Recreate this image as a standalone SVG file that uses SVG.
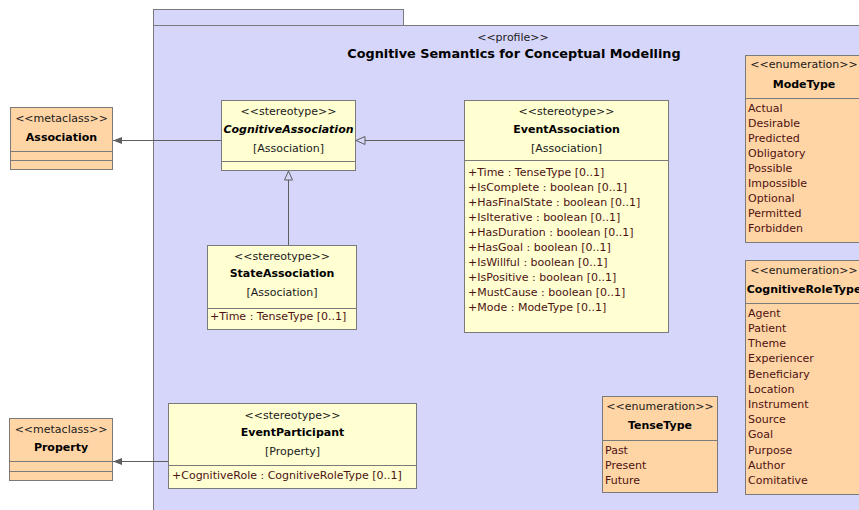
<svg xmlns="http://www.w3.org/2000/svg" width="859" height="510" viewBox="0 0 859 510">
  <defs>
    <style>
      .pkg { fill: #d6d6fb; stroke: #7a7a7a; stroke-width: 1; }
      .st { fill: #ffffd2; stroke: #7a7a7a; stroke-width: 1; }
      .mc { fill: #ffd5a6; stroke: #7a7a7a; stroke-width: 1; }
      .sep { stroke: #7a7a7a; stroke-width: 1; fill: none; }
      text { font-family: "DejaVu Sans", "Liberation Sans", sans-serif; font-size: 11px; fill: #1a1a1a; }
      .c { text-anchor: middle; }
      .b { font-weight: bold; fill: #000; }
      .i { font-style: italic; }
      .a { fill: #4e1212; }
      .title { font-size: 12.8px; font-weight: bold; fill: #000; text-anchor: middle; }
      .edge { stroke: #5e5e5e; stroke-width: 1; fill: none; }
    </style>
    <marker id="head" markerUnits="userSpaceOnUse" markerWidth="10" markerHeight="8" refX="9" refY="4" orient="auto">
      <path d="M0,0.5 L9,4 L0,7.5 z" fill="#5e5e5e"/>
    </marker>
    <marker id="gen" markerUnits="userSpaceOnUse" markerWidth="12" markerHeight="10" refX="10" refY="5" orient="auto">
      <path d="M1,1 L10,5 L1,9 z" fill="#d6d6fb" stroke="#5e5e5e" stroke-width="1"/>
    </marker>
  </defs>

  <rect width="859" height="510" fill="#ffffff"/>

  <!-- profile package -->
  <g id="profile">
    <rect class="pkg" x="153.5" y="9.5" width="250" height="16"/>
    <rect class="pkg" x="153.5" y="25.5" width="720" height="500"/>
    <text class="c" x="513" y="41">&lt;&lt;profile&gt;&gt;</text>
    <text class="title" x="514" y="58">Cognitive Semantics for Conceptual Modelling</text>
  </g>

  <!-- connectors -->
  <g id="connectors">
    <line class="edge" x1="221" y1="140.5" x2="113" y2="140.5" marker-end="url(#head)"/>
    <line class="edge" x1="168" y1="461.5" x2="113" y2="461.5" marker-end="url(#head)"/>
    <line class="edge" x1="464" y1="140.5" x2="356" y2="140.5" marker-end="url(#gen)"/>
    <line class="edge" x1="288.5" y1="245" x2="288.5" y2="171" marker-end="url(#gen)"/>
  </g>

  <g id="metaclass-association">
    <rect class="mc" x="10.5" y="107.5" width="102" height="62"/>
    <line class="sep" x1="10.5" y1="151.5" x2="112.5" y2="151.5"/>
    <line class="sep" x1="10.5" y1="160.5" x2="112.5" y2="160.5"/>
    <text class="c" x="61.5" y="122">&lt;&lt;metaclass&gt;&gt;</text>
    <text class="c b" x="61.5" y="141">Association</text>
  </g>

  <g id="metaclass-property">
    <rect class="mc" x="9.5" y="418.5" width="103" height="62"/>
    <line class="sep" x1="9.5" y1="461.5" x2="112.5" y2="461.5"/>
    <line class="sep" x1="9.5" y1="471.5" x2="112.5" y2="471.5"/>
    <text class="c" x="61" y="433">&lt;&lt;metaclass&gt;&gt;</text>
    <text class="c b" x="61" y="451">Property</text>
  </g>

  <g id="cognitive-association">
    <rect class="st" x="221.5" y="100.5" width="134" height="70"/>
    <line class="sep" x1="221.5" y1="161.5" x2="355.5" y2="161.5"/>
    <text class="c" x="288.5" y="115">&lt;&lt;stereotype&gt;&gt;</text>
    <text class="c b i" x="288.5" y="133">CognitiveAssociation</text>
    <text class="c" x="288.5" y="152">[Association]</text>
  </g>

  <g id="event-association">
    <rect class="st" x="464.5" y="100.5" width="204" height="232"/>
    <line class="sep" x1="464.5" y1="160.5" x2="668.5" y2="160.5"/>
    <text class="c" x="566.5" y="115">&lt;&lt;stereotype&gt;&gt;</text>
    <text class="c b" x="566.5" y="133">EventAssociation</text>
    <text class="c" x="566.5" y="152">[Association]</text>
    <text class="a" x="468" y="176">+Time : TenseType [0..1]</text>
    <text class="a" x="468" y="191">+IsComplete : boolean [0..1]</text>
    <text class="a" x="468" y="206">+HasFinalState : boolean [0..1]</text>
    <text class="a" x="468" y="221">+IsIterative : boolean [0..1]</text>
    <text class="a" x="468" y="236">+HasDuration : boolean [0..1]</text>
    <text class="a" x="468" y="251">+HasGoal : boolean [0..1]</text>
    <text class="a" x="468" y="266">+IsWillful : boolean [0..1]</text>
    <text class="a" x="468" y="281">+IsPositive : boolean [0..1]</text>
    <text class="a" x="468" y="296">+MustCause : boolean [0..1]</text>
    <text class="a" x="468" y="311">+Mode : ModeType [0..1]</text>
  </g>

  <g id="state-association">
    <rect class="st" x="207.5" y="245.5" width="149" height="84"/>
    <line class="sep" x1="207.5" y1="308.5" x2="356.5" y2="308.5"/>
    <text class="c" x="282" y="260">&lt;&lt;stereotype&gt;&gt;</text>
    <text class="c b" x="282" y="277">StateAssociation</text>
    <text class="c" x="282" y="296">[Association]</text>
    <text class="a" x="210" y="320">+Time : TenseType [0..1]</text>
  </g>

  <g id="event-participant">
    <rect class="st" x="168.5" y="403.5" width="248" height="85"/>
    <line class="sep" x1="168.5" y1="465.5" x2="416.5" y2="465.5"/>
    <text class="c" x="292.5" y="419">&lt;&lt;stereotype&gt;&gt;</text>
    <text class="c b" x="292.5" y="436">EventParticipant</text>
    <text class="c" x="292.5" y="455">[Property]</text>
    <text class="a" x="172" y="479">+CognitiveRole : CognitiveRoleType [0..1]</text>
  </g>

  <g id="mode-type">
    <rect class="mc" x="745.5" y="55.5" width="118" height="187"/>
    <line class="sep" x1="745.5" y1="98.5" x2="863.5" y2="98.5"/>
    <text class="c" x="804" y="68">&lt;&lt;enumeration&gt;&gt;</text>
    <text class="c b" x="804" y="88">ModeType</text>
    <text class="a" x="748" y="112">Actual</text>
    <text class="a" x="748" y="127">Desirable</text>
    <text class="a" x="748" y="142">Predicted</text>
    <text class="a" x="748" y="157">Obligatory</text>
    <text class="a" x="748" y="172">Possible</text>
    <text class="a" x="748" y="187">Impossible</text>
    <text class="a" x="748" y="202">Optional</text>
    <text class="a" x="748" y="217">Permitted</text>
    <text class="a" x="748" y="232">Forbidden</text>
  </g>

  <g id="cognitive-role-type">
    <rect class="mc" x="745.5" y="260.5" width="118" height="234"/>
    <line class="sep" x1="745.5" y1="303.5" x2="863.5" y2="303.5"/>
    <text class="c" x="804" y="274">&lt;&lt;enumeration&gt;&gt;</text>
    <text class="c b" x="804" y="293">CognitiveRoleType</text>
    <text class="a" x="748" y="317">Agent</text>
    <text class="a" x="748" y="332">Patient</text>
    <text class="a" x="748" y="347">Theme</text>
    <text class="a" x="748" y="362">Experiencer</text>
    <text class="a" x="748" y="378">Beneficiary</text>
    <text class="a" x="748" y="393">Location</text>
    <text class="a" x="748" y="408">Instrument</text>
    <text class="a" x="748" y="423">Source</text>
    <text class="a" x="748" y="438">Goal</text>
    <text class="a" x="748" y="454">Purpose</text>
    <text class="a" x="748" y="469">Author</text>
    <text class="a" x="748" y="484">Comitative</text>
  </g>

  <g id="tense-type">
    <rect class="mc" x="602.5" y="396.5" width="115" height="96"/>
    <line class="sep" x1="602.5" y1="440.5" x2="717.5" y2="440.5"/>
    <text class="c" x="660" y="410">&lt;&lt;enumeration&gt;&gt;</text>
    <text class="c b" x="660" y="429">TenseType</text>
    <text class="a" x="605" y="454">Past</text>
    <text class="a" x="605" y="469">Present</text>
    <text class="a" x="605" y="484">Future</text>
  </g>
</svg>
